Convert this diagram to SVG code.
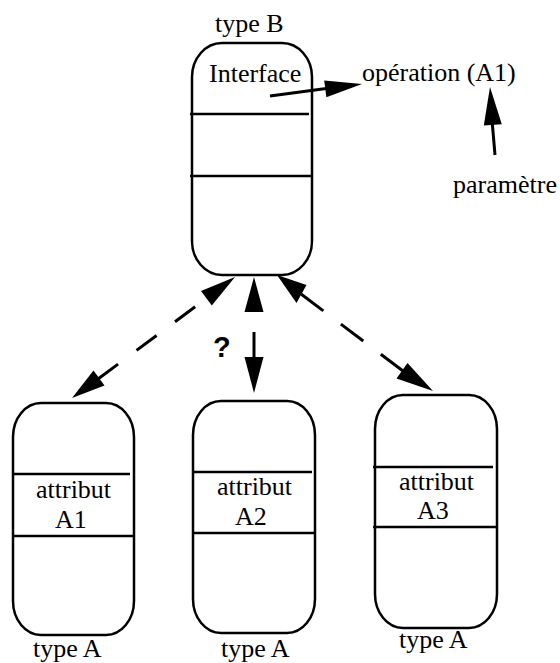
<svg xmlns="http://www.w3.org/2000/svg" width="560" height="663" viewBox="0 0 560 663">
<style>
.box{fill:none;stroke:#000;stroke-width:2.5}
.sep{stroke:#000;stroke-width:2.5}
.t{font-family:"Liberation Serif","Times New Roman",serif;font-size:26px;fill:#000}
.q{font-family:"Liberation Sans",Arial,sans-serif;font-size:29px;font-weight:bold;fill:#000}
.dash{stroke:#000;stroke-width:3;fill:none}
.solid{stroke:#000;stroke-width:3;fill:none}
.head{fill:#000;stroke:none}
</style>
<rect width="560" height="663" fill="#fff"/>
<g id="typeB">
<rect class="box" x="192" y="43" width="120" height="232" rx="30" ry="34"/>
<line class="sep" x1="190" y1="114" x2="309" y2="114"/>
<line class="sep" x1="190" y1="176" x2="313" y2="176"/>
<text class="t" x="215" y="32">type B</text>
<text class="t" x="209" y="82">Interface</text>
</g>
<g id="operation">
<text class="t" x="362" y="81">opération (A1)</text>
</g>
<g id="parametre">
<text class="t" x="453" y="193">paramètre</text>
</g>
<g id="typeA1">
<rect class="box" x="13" y="403" width="121" height="232" rx="28" ry="34"/>
<line class="sep" x1="12" y1="474" x2="130" y2="474"/>
<line class="sep" x1="12" y1="536" x2="135" y2="536"/>
<text class="t" x="36" y="498">attribut</text>
<text class="t" x="55" y="528">A1</text>
<text class="t" x="33" y="657">type A</text>
</g>
<g id="typeA2">
<rect class="box" x="193" y="401" width="122" height="232" rx="28" ry="34"/>
<line class="sep" x1="192" y1="472" x2="312" y2="472"/>
<line class="sep" x1="192" y1="533" x2="316" y2="533"/>
<text class="t" x="217" y="495">attribut</text>
<text class="t" x="235" y="525">A2</text>
<text class="t" x="221" y="657">type A</text>
</g>
<g id="typeA3">
<rect class="box" x="375" y="395" width="122" height="233" rx="28" ry="34"/>
<line class="sep" x1="373" y1="467" x2="493" y2="467"/>
<line class="sep" x1="373" y1="527" x2="498" y2="527"/>
<text class="t" x="399" y="490">attribut</text>
<text class="t" x="417" y="519">A3</text>
<text class="t" x="399" y="648">type A</text>
</g>
<g id="connectors">
<line class="solid" x1="270" y1="96" x2="330" y2="88"/>
<polygon class="head" points="362,84 326.4,97.2 324.2,80.4"/>
<line class="solid" x1="495" y1="155" x2="492" y2="120"/>
<polygon class="head" points="490,87 501.8,124.2 483.8,125.6"/>
<line class="dash" x1="98" y1="379" x2="207" y2="298" stroke-dasharray="25 23"/>
<polygon class="head" points="235,277 211.8,305.6 201,291"/>
<polygon class="head" points="72,398 104.5,385.5 93.5,370.5"/>
<line class="dash" x1="254" y1="358" x2="254" y2="312" stroke-dasharray="26 30"/>
<polygon class="head" points="254,277 263.5,312 244.5,312"/>
<polygon class="head" points="254,393 263.5,357 244.5,357"/>
<line class="dash" x1="301" y1="294" x2="403" y2="371" stroke-dasharray="28 22"/>
<polygon class="head" points="277,275 306.5,285 296.5,303"/>
<polygon class="head" points="433,391 396.5,378.5 407.5,363"/>
</g>
<text class="q" x="213" y="357">?</text>
</svg>
